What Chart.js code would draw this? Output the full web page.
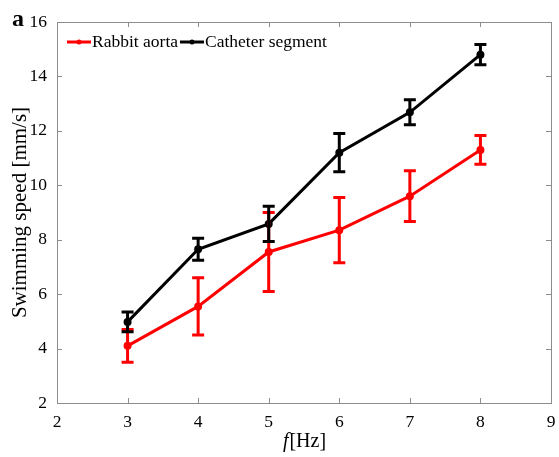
<!DOCTYPE html>
<html>
<head>
<meta charset="utf-8" />
<title>Swimming speed</title>
<script src="https://cdn.jsdelivr.net/npm/chart.js@4.4.0/dist/chart.umd.min.js"></script>
<style>
    body { margin: 0; background: #ffffff; }
    .wrap { width: 559px; height: 457px; position: relative; }
</style>
</head>
<body>
<div class="wrap"><canvas id="c"></canvas></div>
<script>
    const freqs = [3, 4, 5, 6, 7, 8];
    const aortaMean = [4.1, 5.55, 7.55, 8.35, 9.6, 11.3];
    const aortaErr = [0.6, 1.05, 1.45, 1.2, 0.93, 0.53];
    const catheterMean = [4.98, 7.65, 8.58, 11.2, 12.68, 14.8];
    const catheterErr = [0.36, 0.4, 0.65, 0.7, 0.46, 0.37];
    const seriesNames = ['Rabbit aorta', 'Catheter segment'];

    const axisGrey = '#8c8c8c';
    const serif = '"Liberation Serif", "Times New Roman", serif';

    // error bars, box, inward ticks, legend and labels
    const decor = {
        id: 'decor',
        afterDatasetsDraw(chart) {
            const ctx = chart.ctx;
            const xs = chart.scales.x, ys = chart.scales.y;
            const errs = [aortaErr, catheterErr];
            chart.data.datasets.forEach((ds, i) => {
                ctx.save();
                ctx.strokeStyle = ds.borderColor;
                ctx.lineWidth = 3;
                ds.data.forEach((p, j) => {
                    const x = xs.getPixelForValue(p.x);
                    const y1 = ys.getPixelForValue(p.y + errs[i][j]);
                    const y2 = ys.getPixelForValue(p.y - errs[i][j]);
                    ctx.beginPath();
                    ctx.moveTo(x, y1); ctx.lineTo(x, y2);
                    ctx.moveTo(x - 6, y1); ctx.lineTo(x + 6, y1);
                    ctx.moveTo(x - 6, y2); ctx.lineTo(x + 6, y2);
                    ctx.stroke();
                });
                ctx.restore();
            });
        },
        afterDraw(chart) {
            const ctx = chart.ctx;
            const a = chart.chartArea;
            const xs = chart.scales.x, ys = chart.scales.y;
            ctx.save();
            ctx.strokeStyle = axisGrey;
            ctx.lineWidth = 1;
            ctx.strokeRect(a.left + 0.5, a.top + 0.5, a.right - a.left, a.bottom - a.top);
            ctx.beginPath();
            xs.ticks.forEach(t => {
                const x = Math.round(xs.getPixelForValue(t.value)) + 0.5;
                ctx.moveTo(x, a.bottom); ctx.lineTo(x, a.bottom - 5);
                ctx.moveTo(x, a.top); ctx.lineTo(x, a.top + 5);
            });
            ys.ticks.forEach(t => {
                const y = Math.round(ys.getPixelForValue(t.value)) + 0.5;
                ctx.moveTo(a.left, y); ctx.lineTo(a.left + 5, y);
                ctx.moveTo(a.right, y); ctx.lineTo(a.right - 5, y);
            });
            ctx.stroke();

            // legend
            ctx.font = '17.5px ' + serif;
            ctx.textBaseline = 'middle';
            ctx.textAlign = 'left';
            let lx = a.left + 10;
            const ly = a.top + 20;
            chart.data.datasets.forEach(ds => {
                ctx.strokeStyle = ds.borderColor;
                ctx.fillStyle = ds.borderColor;
                ctx.lineWidth = 3;
                ctx.beginPath();
                ctx.moveTo(lx, ly); ctx.lineTo(lx + 24, ly);
                ctx.stroke();
                ctx.beginPath();
                ctx.arc(lx + 12, ly, 2.5, 0, Math.PI * 2);
                ctx.fill();
                ctx.fillStyle = '#000';
                ctx.fillText(ds.label, lx + 25, ly);
                lx += 25 + ctx.measureText(ds.label).width + 2;
            });

            // x title with italic f
            ctx.fillStyle = '#000';
            ctx.textBaseline = 'alphabetic';
            const cx = (a.left + a.right) / 2;
            ctx.font = 'italic 20px ' + serif;
            const fw = ctx.measureText('f').width;
            ctx.font = '20px ' + serif;
            const hw = ctx.measureText('[Hz]').width;
            let sx = cx - (fw + hw) / 2;
            ctx.font = 'italic 20px ' + serif;
            ctx.fillText('f', sx, 447);
            ctx.font = '20px ' + serif;
            ctx.fillText('[Hz]', sx + fw + 1, 447);

            // panel letter
            ctx.font = 'bold 24px ' + serif;
            ctx.fillText('a', 12, 26);
            ctx.restore();
        }
    };

    const toPoints = (ys) => freqs.map((f, i) => ({ x: f, y: ys[i] }));

    new Chart(document.getElementById('c'), {
        type: 'line',
        data: {
            datasets: [{
                label: seriesNames[0],
                data: toPoints(aortaMean),
                borderColor: '#ff0000',
                backgroundColor: '#ff0000',
                borderWidth: 3,
                pointRadius: 2.5,
                pointHoverRadius: 2.5
            }, {
                label: seriesNames[1],
                data: toPoints(catheterMean),
                borderColor: '#000000',
                backgroundColor: '#000000',
                borderWidth: 3,
                pointRadius: 2.5,
                pointHoverRadius: 2.5
            }]
        },
        options: {
            responsive: true,
            maintainAspectRatio: false,
            animation: false,
            layout: { padding: { top: 22, right: 8, left: 0, bottom: 0 } },
            plugins: { legend: { display: false }, tooltip: { enabled: false } },
            scales: {
                x: {
                    type: 'linear',
                    min: 2, max: 9,
                    grid: { display: false },
                    border: { display: false },
                    ticks: { stepSize: 1, color: '#000', padding: 1, font: { family: serif, size: 17.5 } },
                    afterFit(s) { s.height = 54; }
                },
                y: {
                    min: 2, max: 16,
                    grid: { display: false },
                    border: { display: false },
                    ticks: { stepSize: 2, color: '#000', padding: 2, font: { family: serif, size: 17.5 } },
                    title: { display: true, text: 'Swimming speed [mm/s]', color: '#000', padding: { top: 8, bottom: 0 }, font: { family: serif, size: 21 } },
                    afterFit(s) { s.width = 57; }
                }
            }
        },
        plugins: [decor]
    });
</script>
</body>
</html>
